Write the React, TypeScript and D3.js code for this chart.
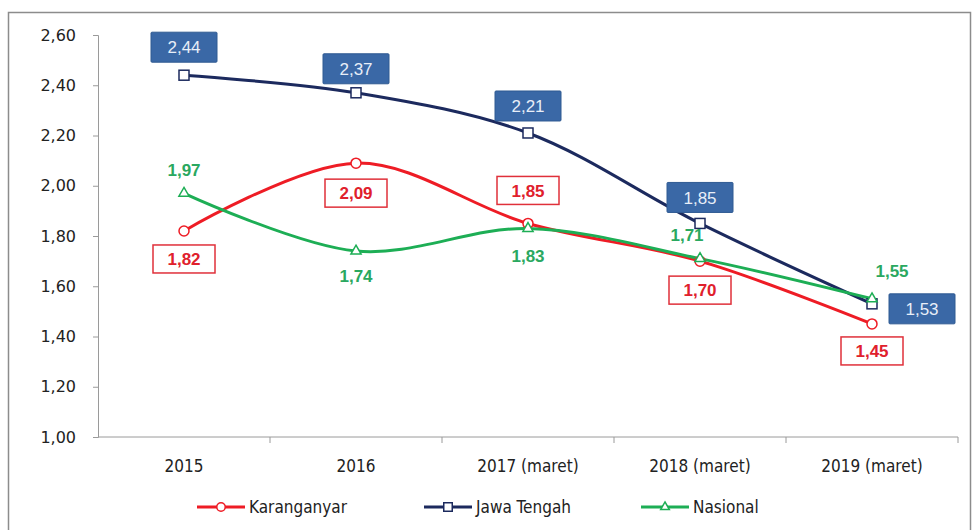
import React, { useEffect, useRef } from "react";
import * as d3 from "d3";

const categories = ["2015", "2016", "2017 (maret)", "2018 (maret)", "2019 (maret)"];
const karanganyar = [1.82, 2.09, 1.85, 1.7, 1.45];
const jawaTengah = [2.44, 2.37, 2.21, 1.85, 1.53];
const nasional = [1.97, 1.74, 1.83, 1.71, 1.55];
const yTicks = [1.0, 1.2, 1.4, 1.6, 1.8, 2.0, 2.2, 2.4, 2.6];

// label offsets from the point (dx, dy), per series
const redOffsets = [[0, 28], [0, 30], [0, -33], [0, 29], [0, 27]];
const blueOffsets = [[0, -28], [0, -24], [0, -27], [0, -26], [50, 5]];
const greenOffsets = [[0, -23], [0, 25], [0, 27], [-13, -24], [20, -28]];

const fmt = (v: number) => v.toFixed(2).replace(".", ",");

export default function App() {
  const svgRef = useRef<SVGSVGElement>(null);

  useEffect(() => {
    const svg = d3.select(svgRef.current);
    svg.selectAll("*").remove();

    const width = 974;
    const height = 530;
    const margin = { top: 35, right: 16, bottom: 93, left: 98 };

    const x = d3.scaleBand()
      .domain(categories)
      .range([margin.left, width - margin.right]);
    const y = d3.scaleLinear()
      .domain([1, 2.6])
      .range([height - margin.bottom, margin.top]);

    const cx = (i: number) => (x(categories[i]) ?? 0) + x.bandwidth() / 2;

    // outer frame
    svg.append("rect")
      .attr("x", 8.5).attr("y", 12.5)
      .attr("width", 962).attr("height", 540)
      .attr("fill", "white").attr("stroke", "#8c8c8c").attr("stroke-width", 1.5);

    // y axis
    const yAxis = svg.append("g")
      .attr("transform", `translate(${margin.left},0)`)
      .call(d3.axisLeft(y).tickValues(yTicks).tickSize(5).tickPadding(17).tickFormat((d) => fmt(d as number)));
    yAxis.select(".domain").attr("stroke", "#9a9a9a");
    yAxis.selectAll(".tick line").attr("stroke", "#9a9a9a");
    yAxis.selectAll(".tick text")
      .attr("font-family", "DejaVu Sans, Verdana, sans-serif")
      .attr("font-size", 16).attr("fill", "#222");

    // x axis
    const xAxisG = svg.append("g").attr("transform", `translate(0,${y(1)})`);
    xAxisG.append("line")
      .attr("x1", margin.left).attr("x2", width - margin.right)
      .attr("stroke", "#9a9a9a");
    categories.forEach((c, i) => {
      const bx = (x(c) ?? 0) + x.bandwidth();
      xAxisG.append("line")
        .attr("x1", bx).attr("x2", bx).attr("y1", 0).attr("y2", 6)
        .attr("stroke", "#9a9a9a");
      xAxisG.append("text")
        .attr("x", cx(i)).attr("y", 35)
        .attr("text-anchor", "middle")
        .attr("font-family", "DejaVu Sans Condensed, sans-serif")
        .attr("font-size", 17).attr("fill", "#222")
        .text(c);
    });

    const line = d3.line<number>()
      .x((_, i) => cx(i))
      .y((d) => y(d))
      .curve(d3.curveCatmullRom.alpha(0.5));

    const series = [
      { name: "Karanganyar", values: karanganyar, color: "#ee1c25", marker: "circle" },
      { name: "Jawa Tengah", values: jawaTengah, color: "#1c2a5e", marker: "square" },
      { name: "Nasional", values: nasional, color: "#1dae55", marker: "triangle" },
    ];

    const drawMarker = (g: any, type: string, px: number, py: number, color: string, sz = 1) => {
      if (type === "circle") {
        g.append("circle").attr("cx", px).attr("cy", py).attr("r", 5 * sz)
          .attr("fill", "white").attr("stroke", color).attr("stroke-width", 1.5);
      } else if (type === "square") {
        g.append("rect").attr("x", px - 5 * sz).attr("y", py - 5 * sz)
          .attr("width", 10 * sz).attr("height", 10 * sz)
          .attr("fill", "white").attr("stroke", color).attr("stroke-width", 1.5);
      } else {
        const sym = d3.symbol(d3.symbolTriangle, 45 * sz * sz)();
        g.append("path").attr("d", sym).attr("transform", `translate(${px},${py})`)
          .attr("fill", "white").attr("stroke", color).attr("stroke-width", 1.5);
      }
    };

    // lines: draw blue, red, green
    const order = [1, 0, 2];
    order.forEach((si) => {
      const s = series[si];
      svg.append("path")
        .datum(s.values)
        .attr("fill", "none")
        .attr("stroke", s.color)
        .attr("stroke-width", 3)
        .attr("d", line);
    });
    order.forEach((si) => {
      const s = series[si];
      const g = svg.append("g");
      s.values.forEach((v, i) => drawMarker(g, s.marker, cx(i), y(v), s.color));
    });

    const labelFont = "Liberation Sans, Arial, sans-serif";

    // Jawa Tengah labels
    jawaTengah.forEach((v, i) => {
      const lx = cx(i) + blueOffsets[i][0];
      const ly = y(v) + blueOffsets[i][1];
      svg.append("rect")
        .attr("x", lx - 33).attr("y", ly - 15).attr("width", 66).attr("height", 30)
        .attr("fill", "#3a68a6").attr("stroke", "#2f5a92").attr("rx", 1);
      svg.append("text")
        .attr("x", lx).attr("y", ly).attr("dy", "0.36em")
        .attr("text-anchor", "middle")
        .attr("font-family", labelFont).attr("font-size", 17)
        .attr("fill", "#e8eef8")
        .text(fmt(v));
    });

    // Karanganyar labels
    karanganyar.forEach((v, i) => {
      const lx = cx(i) + redOffsets[i][0];
      const ly = y(v) + redOffsets[i][1];
      svg.append("rect")
        .attr("x", lx - 31).attr("y", ly - 14).attr("width", 62).attr("height", 28)
        .attr("fill", "white").attr("stroke", "#e0303a").attr("stroke-width", 1.5);
      svg.append("text")
        .attr("x", lx).attr("y", ly).attr("dy", "0.36em")
        .attr("text-anchor", "middle")
        .attr("font-family", labelFont).attr("font-size", 17).attr("font-weight", "bold")
        .attr("fill", "#e0202c")
        .text(fmt(v));
    });

    // Nasional labels
    nasional.forEach((v, i) => {
      const lx = cx(i) + greenOffsets[i][0];
      const ly = y(v) + greenOffsets[i][1];
      svg.append("text")
        .attr("x", lx).attr("y", ly).attr("dy", "0.36em")
        .attr("text-anchor", "middle")
        .attr("font-family", labelFont).attr("font-size", 17).attr("font-weight", "bold")
        .attr("fill", "#2aa860")
        .text(fmt(v));
    });

    // legend
    const legendX = [197, 424, 641];
    series.forEach((s, i) => {
      const g = svg.append("g").attr("transform", `translate(${legendX[i]},507)`);
      g.append("line").attr("x1", 0).attr("x2", 48)
        .attr("stroke", s.color).attr("stroke-width", 3);
      drawMarker(g, s.marker, 24, 0, s.color, 0.85);
      g.append("text")
        .attr("x", 52).attr("y", 0).attr("dy", "0.36em")
        .attr("font-family", "DejaVu Sans Condensed, sans-serif")
        .attr("font-size", 17).attr("fill", "#222")
        .text(s.name);
    });
  }, []);

  return (
    <svg
      ref={svgRef}
      width={974}
      height={530}
      style={{ position: "absolute", left: 0, top: 0, background: "white" }}
    />
  );
}
